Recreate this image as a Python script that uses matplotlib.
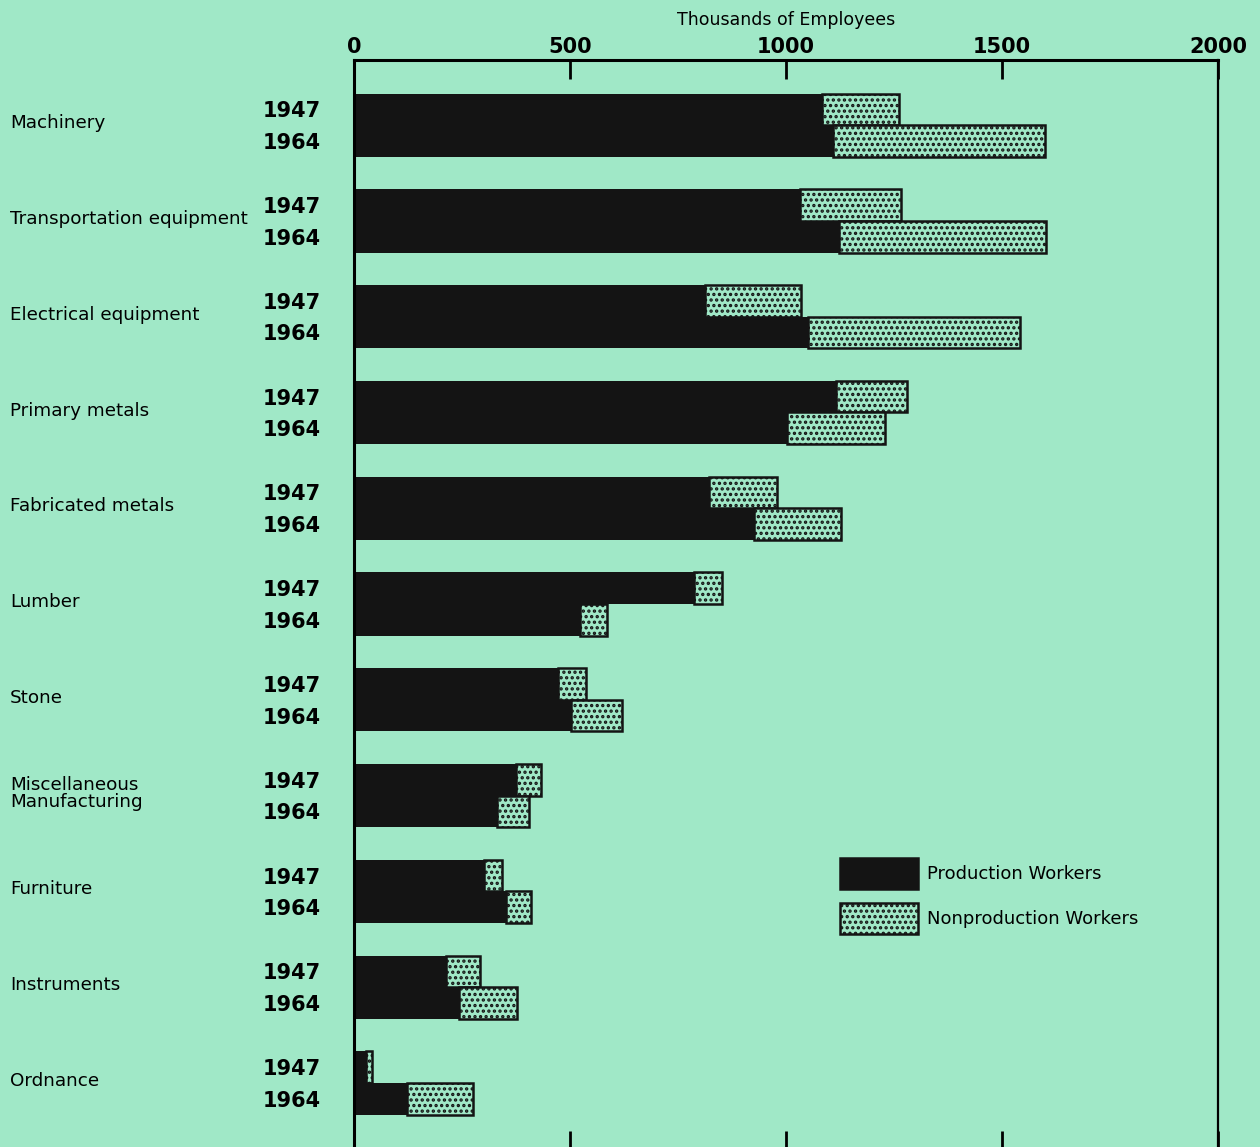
import numpy as np
import matplotlib.pyplot as plt
import matplotlib.transforms as mtransforms
from matplotlib.patches import Patch

industries = ["Machinery", "Transportation equipment", "Electrical equipment",
              "Primary metals", "Fabricated metals", "Lumber", "Stone",
              "Miscellaneous\nManufacturing", "Furniture", "Instruments", "Ordnance"]
years = ["1947", "1964"]

# thousands of employees
prod_1947 = [1083, 1032, 812, 1116, 822, 787, 472, 375, 301, 213, 28]
total_1947 = [1262, 1266, 1035, 1280, 979, 852, 537, 433, 343, 292, 42]
prod_1964 = [1109, 1123, 1051, 1002, 926, 523, 502, 331, 352, 243, 123]
total_1964 = [1600, 1602, 1542, 1229, 1127, 586, 620, 405, 410, 377, 275]

bg = "#a0e8c7"
ink = "#141414"

plt.rcParams['hatch.linewidth'] = 1.6
plt.rcParams['hatch.color'] = ink

fig = plt.figure(figsize=(12.6, 11.47), dpi=100, facecolor=bg)
ax = fig.add_axes([354 / 1260, 1 - 1150 / 1147, 864 / 1260, 1090 / 1147])
ax.set_facecolor(bg)

n = len(industries)
pos = np.arange(n)
h = 0.33
y47 = pos - h / 2
y64 = pos + h / 2

non_1947 = np.array(total_1947) - np.array(prod_1947)
non_1964 = np.array(total_1964) - np.array(prod_1964)

ax.barh(y47, prod_1947, height=h, color=ink)
ax.barh(y64, prod_1964, height=h, color=ink)
ax.barh(y47, non_1947, left=prod_1947, height=h, facecolor=bg, edgecolor=ink,
        linewidth=1.8, hatch="...")
ax.barh(y64, non_1964, left=prod_1964, height=h, facecolor=bg, edgecolor=ink,
        linewidth=1.8, hatch="...")

ax.set_xlim(0, 2000)
ax.set_ylim(n - 0.3, -0.68)

# year labels as y ticks
yt = np.ravel(np.column_stack([y47, y64]))
ax.set_yticks(yt)
ax.set_yticklabels(years * n, fontsize=15, fontweight='bold')
ax.tick_params(axis='y', length=0, pad=24)

ax.set_xticks([0, 500, 1000, 1500, 2000])
ax.xaxis.set_ticks_position('both')
ax.tick_params(axis='x', direction='in', length=14, width=2, top=True, bottom=True,
               labeltop=True, labelbottom=False, labelsize=15, pad=2)
for lab in ax.get_xticklabels():
    lab.set_fontweight('bold')
ax.set_xlabel("Thousands of Employees", fontsize=12.5, labelpad=9)
ax.xaxis.set_label_position('top')

ax.spines['bottom'].set_visible(False)
ax.spines['top'].set_linewidth(2.2)
ax.spines['left'].set_linewidth(2.2)
ax.spines['right'].set_linewidth(1.6)

trans = mtransforms.blended_transform_factory(fig.transFigure, ax.transData)
for i, name in enumerate(industries):
    ax.text(10 / 1260, pos[i] - 0.02, name, transform=trans, fontsize=13.2,
            ha='left', va='center', linespacing=0.95)

handles = [Patch(facecolor=ink, edgecolor=ink, linewidth=1.8),
           Patch(facecolor=bg, edgecolor=ink, linewidth=1.8, hatch="...")]
ax.legend(handles, ["Production Workers", "Nonproduction Workers"],
          loc='upper left', bbox_to_anchor=(840 / 1260, 1 - 858 / 1147),
          bbox_transform=fig.transFigure, frameon=False, fontsize=13,
          handlelength=4.3, handleheight=2.3, labelspacing=0.75, handletextpad=0.5,
          borderaxespad=0, borderpad=0)

fig.savefig("out.png", dpi=100, facecolor=bg)
